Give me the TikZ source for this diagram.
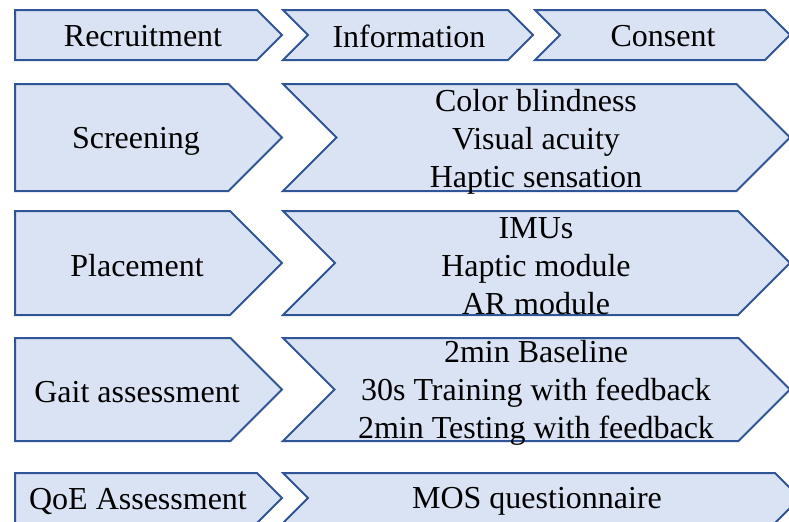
\documentclass[tikz,border=0pt]{standalone}
\usepackage{fontspec}
\setmainfont{Liberation Serif}
\definecolor{stagefill}{HTML}{DAE3F3}
\definecolor{stageedge}{HTML}{2F5597}
\begin{document}
\begin{tikzpicture}[x=0.5pt, y=-0.5pt,
  stage/.style={fill=stagefill, draw=stageedge, line width=1pt, line join=miter},
  lbl/.style={font=\fontsize{16}{19}\selectfont, align=center, inner sep=0pt}]
  \useasboundingbox (0,0) rectangle (789,521);

  % Left column: pentagons with the stage names
  \foreach \yt/\yb/\xt/\dy/\nm/\txt in {
    10/60/143/1/recruit/Recruitment,
    84/191/136/4/screen/Screening,
    211/315/137/3/place/Placement,
    338/441/137/3/gait/Gait assessment,
    473/523/142/3/qoe/QoE Assessment
  }{
    \pgfmathsetmacro\ym{(\yt+\yb)/2}
    \pgfmathsetmacro\hh{(\yb-\yt)/2}
    \draw[stage] (15,\yt) -- (282-\hh,\yt) -- (282,\ym) -- (282-\hh,\yb)
      -- (15,\yb) -- cycle;
    \node[lbl] (\nm) at (\xt,\ym+\dy) {\txt};
  }

  % Right column: chevrons with the details
  \foreach \xl/\xr/\yt/\yb/\xt/\dy/\nm/\txt in {
    283/533/10/60/409/1/info/Information,
    535/790/10/60/663/1/consent/Consent,
    283/790/84/191/536/4/screenlist/{Color blindness\\Visual acuity\\Haptic sensation},
    283/790/211/315/536/3/placelist/{IMUs\\Haptic module\\AR module},
    283/790/338/441/536/3/gaitlist/{2min Baseline\\30s Training with feedback\\2min Testing with feedback},
    283/800/473/523/541/3/qoelist/MOS questionnaire
  }{
    \pgfmathsetmacro\ym{(\yt+\yb)/2}
    \pgfmathsetmacro\hh{(\yb-\yt)/2}
    \draw[stage] (\xl,\yt) -- (\xr-\hh,\yt) -- (\xr,\ym) -- (\xr-\hh,\yb)
      -- (\xl,\yb) -- (\xl+\hh,\ym) -- cycle;
    \node[lbl] (\nm) at (\xt,\ym+\dy) {\txt};
  }
\end{tikzpicture}
\end{document}
